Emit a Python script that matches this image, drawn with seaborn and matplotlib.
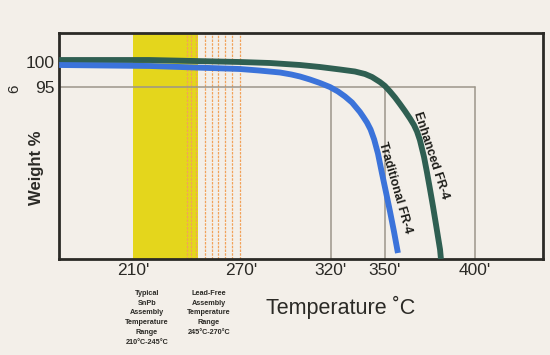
import matplotlib
matplotlib.use('Agg')
import matplotlib.pyplot as plt
import seaborn as sns
import pandas as pd

# --- data ---
enhanced_temp = [169, 219, 269.4, 286.1, 302.8, 313.9, 325, 333.3, 338.9, 342.8, 347.2, 350,
                 352.8, 355.6, 358.3, 361.1, 363.9, 366.1, 367.8, 369.4, 371.7, 373.3, 375,
                 376.7, 378.3, 380.6, 381.1]
enhanced_wt = [100.4, 100.4, 100.0, 99.8, 99.4, 99.0, 98.5, 98.1, 97.6, 97.0, 96.0, 95.2,
               94.1, 92.9, 91.6, 90.2, 88.7, 87.4, 86.1, 84.4, 81.0, 78.0, 74.6,
               71.1, 67.6, 62.5, 60.6]

traditional_temp = [169, 219.4, 269.4, 280, 291.7, 298, 302.8, 308.3, 313.9, 319.4, 323.9,
                    327.8, 331.7, 336.1, 338, 340, 342, 344, 346.1, 348.3, 350.6, 352.8,
                    355, 357.2]
traditional_wt = [99.4, 99.2, 98.6, 98.3, 97.9, 97.5, 97.1, 96.5, 95.8, 95.0, 94.1,
                  93.1, 91.9, 90.0, 89.0, 87.9, 86.5, 84.5, 81.7, 77.8, 73.9, 70.1,
                  66.1, 61.8]

x_ticks = [210, 270, 320, 350, 400]
y_ticks = [95, 100]
ref_temps = [320, 350, 400]
ref_weight = 95
snpb_range = (210, 246)
leadfree_lines = [240, 242.5, 245, 250, 254, 257.5, 261, 265, 269.5]

PAPER = '#f3efe9'
INK = '#2b2a26'

df = pd.concat([
    pd.DataFrame({'Temperature': enhanced_temp, 'Weight': enhanced_wt, 'Material': 'Enhanced FR-4'}),
    pd.DataFrame({'Temperature': traditional_temp, 'Weight': traditional_wt, 'Material': 'Traditional FR-4'}),
])

sns.set_style('white')
plt.rcParams['font.family'] = ['Liberation Sans', 'DejaVu Sans']

W, H = 550, 355
fig = plt.figure(figsize=(W / 100, H / 100), dpi=100, facecolor=PAPER)
ax = fig.add_axes([59 / W, 1 - 259 / H, (543 - 59) / W, (259 - 33) / H])
ax.set_facecolor(PAPER)

xmin, xmax = 168.9, 437.8
ymin, ymax = 60.6, 105.8

# assembly temperature ranges
ax.axvspan(*snpb_range, color='#e4d61c', lw=0, zorder=0)
for t in leadfree_lines:
    ax.axvline(t, color='#f2a25a', lw=0.9, ls=(0, (2, 1)), zorder=0.5)

# reference guides at 95%
ax.plot([xmin, ref_temps[-1]], [ref_weight, ref_weight], color='#9c968a', lw=1.1, zorder=1)
for t in ref_temps:
    ax.plot([t, t], [ymin, ref_weight], color='#9c968a', lw=1.1, zorder=1)

sns.lineplot(data=df, x='Temperature', y='Weight', hue='Material', sort=False,
             palette={'Enhanced FR-4': '#2f5f52', 'Traditional FR-4': '#3b73da'},
             linewidth=4.2, legend=False, ax=ax, zorder=3)
for line in ax.get_lines()[-2:]:
    line.set_solid_joinstyle('round')
    line.set_solid_capstyle('butt')

ax.set_xlim(xmin, xmax)
ax.set_ylim(ymin, ymax)
ax.set_xticks(x_ticks)
ax.set_xticklabels([f"{t}'" for t in x_ticks], fontsize=12.5, color=INK)
ax.set_yticks(y_ticks)
ax.set_yticklabels([str(v) for v in y_ticks], fontsize=12.5, color=INK)
ax.tick_params(length=0, pad=3)
ax.set_xlabel('')
ax.set_ylabel('')
for s in ax.spines.values():
    s.set_color(INK)
    s.set_linewidth(2)

def fx(px):
    return px / W

def fy(py):
    return 1 - py / H

fig.text(fx(37), fy(168), 'Weight %', rotation=90, fontsize=12, fontweight='bold',
         color=INK, ha='center', va='center')
fig.text(fx(14), fy(89), '6', rotation=90, fontsize=11, color=INK, ha='center', va='center')
fig.text(fx(341), fy(307), 'Temperature \u02daC', fontsize=15.5, color=INK, ha='center', va='center')

fig.text(fx(147), fy(290), 'Typical\nSnPb\nAssembly\nTemperature\nRange\n210\u00b0C-245\u00b0C',
         fontsize=5.2, fontweight='bold', color=INK, ha='center', va='top', linespacing=1.55)
fig.text(fx(209), fy(290), 'Lead-Free\nAssembly\nTemperature\nRange\n245\u00b0C-270\u00b0C',
         fontsize=5.2, fontweight='bold', color=INK, ha='center', va='top', linespacing=1.55)

fig.text(fx(431), fy(155), 'Enhanced FR-4', rotation=-72, fontsize=9, fontweight='bold',
         color='#1e1e1a', ha='center', va='center', rotation_mode='anchor')
fig.text(fx(395), fy(188), 'Traditional FR-4', rotation=-74, fontsize=9, fontweight='bold',
         color='#1e1e1a', ha='center', va='center', rotation_mode='anchor')

fig.savefig('out.png', dpi=100, facecolor=PAPER)
